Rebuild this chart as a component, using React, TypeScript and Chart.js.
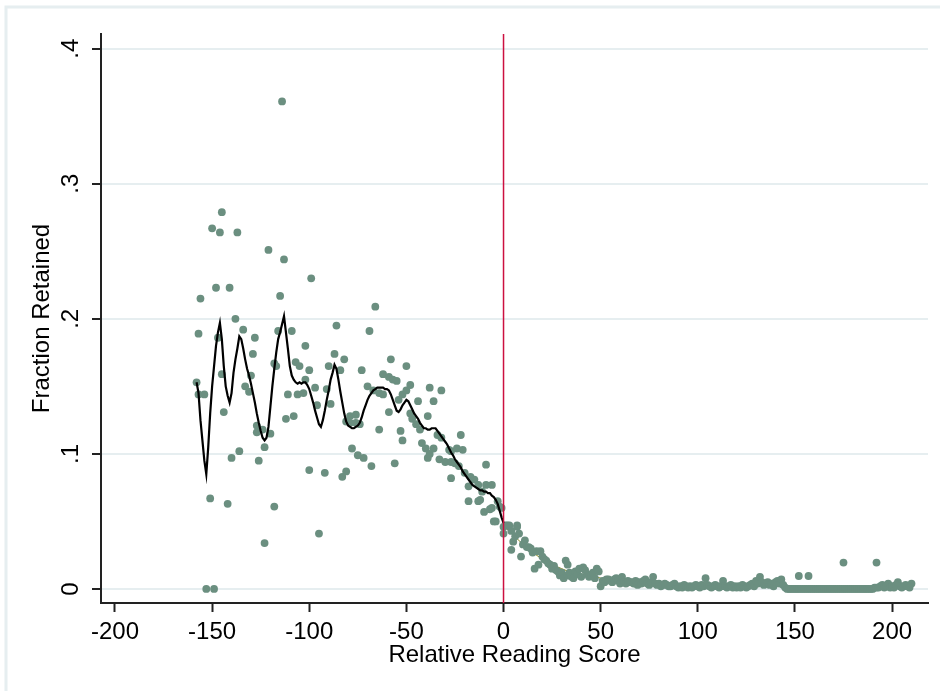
import React, { useEffect, useRef } from 'react';
import { Chart, registerables } from 'chart.js';

Chart.register(...registerables);

// ---- axis ticks ----
const xTickValues = [-200, -150, -100, -50, 0, 50, 100, 150, 200];
const yTickValues = [0, 0.1, 0.2, 0.3, 0.4];
const xTitle = 'Relative Reading Score';
const yTitle = 'Fraction Retained';
const cutoffScore = 0;

// ---- scatter: below cutoff ----
const belowScores = [
  -158, -157, -157, -156, -154, -153, -149, -151, -150, -148, -147, -146, -145, -145, -144, -142, -141, -140, -138, -137,
  -136, -134, -133, -131, -130, -129, -128, -127, -127, -126, -124, -123, -123, -121, -120, -118, -118, -117, -116, -115,
  -114, -113, -112, -111, -109, -108, -107, -106, -105, -103, -102, -102, -100, -100, -99, -97, -96, -95, -92, -91,
  -90, -89, -87, -86, -84, -83, -82, -81, -81, -79, -79, -78, -76, -76, -75, -74, -73, -72, -70, -69,
  -68, -67, -66, -64, -64, -62, -62, -59, -59, -58, -57, -56, -55, -54, -53, -52, -52, -50, -50, -48,
  -48, -47, -45, -44, -43, -42, -40, -39, -39, -38, -38, -36, -36, -34, -33, -32, -32, -30, -28, -27,
  -27, -27, -25, -24, -23, -22, -21, -20, -18, -18, -17, -15, -13, -13, -12, -11, -10, -9, -9, -7,
  -6, -6, -5, -4, -3, -2, -1,
];
const belowFractions = [
  0.153, 0.144, 0.189, 0.215, 0.144, 0, 0, 0.067, 0.267, 0.223, 0.186, 0.264, 0.279, 0.159, 0.131, 0.063, 0.223, 0.097, 0.2, 0.264,
  0.102, 0.192, 0.15, 0.146, 0.158, 0.174, 0.186, 0.121, 0.116, 0.095, 0.118, 0.105, 0.034, 0.251, 0.115, 0.167, 0.061, 0.165, 0.191, 0.217,
  0.361, 0.244, 0.126, 0.144, 0.191, 0.128, 0.168, 0.144, 0.165, 0.145, 0.155, 0.18, 0.088, 0.162, 0.23, 0.149, 0.136, 0.041, 0.086, 0.148,
  0.165, 0.137, 0.174, 0.195, 0.162, 0.083, 0.17, 0.124, 0.087, 0.128, 0.123, 0.104, 0.129, 0.123, 0.099, 0.122, 0.162, 0.097, 0.15, 0.191,
  0.091, 0.147, 0.209, 0.145, 0.118, 0.159, 0.144, 0.157, 0.131, 0.17, 0.155, 0.093, 0.154, 0.14, 0.117, 0.144, 0.11, 0.165, 0.147, 0.13,
  0.151, 0.126, 0.122, 0.139, 0.118, 0.108, 0.104, 0.128, 0.097, 0.149, 0.1, 0.104, 0.139, 0.114, 0.096, 0.112, 0.147, 0.094, 0.103, 0.094,
  0.102, 0.082, 0.093, 0.104, 0.091, 0.114, 0.103, 0.086, 0.076, 0.065, 0.083, 0.081, 0.077, 0.065, 0.066, 0.072, 0.057, 0.077, 0.092, 0.059,
  0.06, 0.077, 0.05, 0.05, 0.065, 0.061, 0.06,
];

// ---- scatter: at / above cutoff ----
const aboveScores = [
  0, 0, 1, 2, 3, 4, 4, 5, 6, 7, 7, 8, 9, 10, 11, 12, 13, 14, 15, 16,
  17, 18, 19, 20, 21, 22, 23, 24, 25, 26, 27, 28, 29, 30, 31, 32, 33, 33, 34, 35,
  36, 37, 38, 39, 40, 41, 42, 43, 44, 45, 46, 47, 48, 49, 50, 51, 52, 53, 54, 55,
  56, 57, 58, 59, 60, 61, 62, 63, 64, 65, 66, 67, 68, 69, 70, 71, 72, 73, 74, 75,
  76, 77, 78, 79, 80, 81, 82, 83, 84, 85, 86, 87, 88, 89, 90, 91, 92, 93, 94, 95,
  96, 97, 98, 99, 100, 101, 102, 103, 104, 105, 106, 107, 108, 109, 110, 111, 112, 113, 114, 115,
  116, 117, 118, 119, 120, 121, 122, 123, 124, 125, 126, 127, 128, 129, 130, 131, 132, 133, 134, 135,
  136, 137, 138, 139, 140, 141, 142, 143, 144, 145, 146, 147, 148, 149, 150, 151, 152, 152, 153, 154,
  155, 156, 157, 157, 158, 159, 160, 161, 162, 163, 164, 165, 166, 167, 168, 169, 170, 171, 172, 173,
  174, 175, 175, 176, 177, 178, 179, 180, 181, 182, 183, 184, 185, 186, 187, 188, 189, 190, 191, 192,
  192, 193, 194, 195, 196, 197, 198, 199, 200, 201, 202, 203, 204, 205, 206, 207, 208, 209, 210,
];
const aboveFractions = [
  0.046, 0.041, 0.047, 0.047, 0.047, 0.043, 0.029, 0.035, 0.039, 0.047, 0.046, 0.041, 0.024, 0.033, 0.036, 0.031, 0.031, 0.03, 0.027, 0.015,
  0.028, 0.018, 0.028, 0.024, 0.022, 0.021, 0.019, 0.018, 0.015, 0.017, 0.014, 0.013, 0.01, 0.012, 0.008, 0.021, 0.018, 0.01, 0.012, 0.009,
  0.008, 0.013, 0.011, 0.015, 0.009, 0.016, 0.014, 0.011, 0.009, 0.01, 0.012, 0.008, 0.015, 0.013, 0.002, 0.006, 0.005, 0.007, 0.007, 0.006,
  0.005, 0.007, 0.008, 0.006, 0.004, 0.009, 0.005, 0.004, 0.006, 0.005, 0.005, 0.004, 0.006, 0.003, 0.005, 0.004, 0.006, 0.007, 0.004, 0.003,
  0.005, 0.009, 0.004, 0.003, 0.004, 0.002, 0.003, 0.004, 0.003, 0.002, 0.002, 0.003, 0.004, 0.002, 0.001, 0.002, 0.001, 0.003, 0.002, 0.001,
  0.002, 0.001, 0.002, 0.003, 0.002, 0.001, 0.003, 0.002, 0.008, 0.003, 0.002, 0.001, 0.002, 0.003, 0.002, 0.001, 0.002, 0.006, 0.002, 0.001,
  0.002, 0.003, 0.001, 0.002, 0.001, 0.002, 0.001, 0.003, 0.002, 0.001, 0.002, 0.003, 0.004, 0.002, 0.006, 0.004, 0.009, 0.005, 0.003, 0.004,
  0.005, 0.003, 0.004, 0.002, 0.005, 0.006, 0.004, 0.007, 0.003, 0.001, 0, 0, 0, 0, 0, 0, 0, 0.0096, 0, 0,
  0, 0, 0, 0.0096, 0, 0, 0, 0, 0, 0, 0, 0, 0, 0, 0, 0, 0, 0, 0, 0,
  0, 0, 0.0195, 0, 0, 0, 0, 0, 0, 0, 0, 0, 0, 0, 0, 0, 0, 0, 0.001, 0.001,
  0.0195, 0.001, 0.002, 0.003, 0.001, 0.002, 0.004, 0.001, 0.002, 0.001, 0.003, 0.005, 0.002, 0.001, 0.002, 0.003, 0.002, 0.001, 0.004,
];

// ---- local mean line below cutoff ----
const belowLineScores = [
  -158, -157, -156, -155, -154, -153, -152, -151, -150, -149, -148, -147, -146, -145, -144, -143, -142, -141, -140, -139,
  -138, -137, -136, -135, -134, -133, -132, -131, -130, -129, -128, -127, -126, -125, -124, -123, -122, -121, -120, -119,
  -118, -117, -116, -115, -114, -113, -112, -111, -110, -109, -108, -107, -106, -105, -104, -103, -102, -101, -100, -99,
  -98, -97, -96, -95, -94, -93, -92, -91, -90, -89, -88, -87, -86, -85, -84, -83, -82, -81, -80, -79,
  -78, -77, -76, -75, -74, -73, -72, -71, -70, -69, -68, -67, -66, -65, -64, -63, -62, -61, -60, -59,
  -58, -57, -56, -55, -54, -53, -52, -51, -50, -49, -48, -47, -46, -45, -44, -43, -42, -41, -40, -39,
  -38, -37, -36, -35, -34, -33, -32, -31, -30, -29, -28, -27, -26, -25, -24, -23, -22, -21, -20, -19,
  -18, -17, -16, -15, -14, -13, -12, -11, -10, -9, -8, -7, -6, -5, -4, -3, -2, -1, 0,
];
const belowLineFractions = [
  0.153, 0.145, 0.125, 0.11, 0.095, 0.085, 0.105, 0.13, 0.15, 0.165, 0.18, 0.19, 0.197, 0.185, 0.165, 0.15, 0.143, 0.138, 0.145, 0.16,
  0.17, 0.178, 0.187, 0.185, 0.178, 0.17, 0.163, 0.158, 0.152, 0.145, 0.138, 0.13, 0.123, 0.117, 0.112, 0.11, 0.112, 0.12, 0.135, 0.15,
  0.163, 0.175, 0.185, 0.19, 0.196, 0.202, 0.19, 0.178, 0.165, 0.158, 0.155, 0.153, 0.152, 0.153, 0.152, 0.153, 0.153, 0.151, 0.148, 0.143,
  0.138, 0.132, 0.127, 0.122, 0.12, 0.125, 0.132, 0.14, 0.147, 0.155, 0.16, 0.166, 0.163, 0.155, 0.146, 0.138, 0.13, 0.124, 0.121, 0.12,
  0.119, 0.119, 0.12, 0.121, 0.123, 0.127, 0.132, 0.136, 0.14, 0.143, 0.145, 0.147, 0.148, 0.149, 0.149, 0.149, 0.149, 0.148, 0.148, 0.147,
  0.144, 0.14, 0.136, 0.132, 0.131, 0.133, 0.136, 0.138, 0.14, 0.139, 0.136, 0.133, 0.13, 0.128, 0.126, 0.123, 0.121, 0.119, 0.119, 0.118,
  0.118, 0.119, 0.119, 0.119, 0.117, 0.115, 0.113, 0.111, 0.109, 0.107, 0.104, 0.101, 0.099, 0.096, 0.094, 0.092, 0.09, 0.087, 0.085, 0.083,
  0.081, 0.079, 0.077, 0.076, 0.075, 0.074, 0.073, 0.073, 0.072, 0.072, 0.071, 0.071, 0.069, 0.068, 0.066, 0.063, 0.058, 0.053, 0.049,
];

// ---- local mean line above cutoff ----
const aboveLineScores = [0, 5, 10, 15, 20, 25, 30, 35, 40, 45, 50, 55, 60, 70, 80, 90, 100, 120, 140, 160, 180, 190, 200, 210];
const aboveLineFractions = [0.047, 0.04, 0.033, 0.027, 0.022, 0.018, 0.015, 0.012, 0.011, 0.01, 0.008, 0.006, 0.005, 0.005, 0.004, 0.003, 0.002, 0.002, 0.003, 0.001, 0.001, 0.002, 0.003, 0.004];

const X_MIN = -207.2;
const X_MAX = 218.5;
const Y_MIN = -0.0104;
const Y_MAX = 0.4109;

const FONT = "'Liberation Sans', Arial, sans-serif";

const pts = (xs: number[], ys: number[]) => xs.map((x, i) => ({ x, y: ys[i] }));

const framePlugin = {
  id: 'frame',
  beforeDraw(chart: any) {
    const { ctx, width, height } = chart;
    ctx.save();
    ctx.fillStyle = '#ffffff';
    ctx.fillRect(0, 0, width, height);
    ctx.strokeStyle = '#e6eef0';
    ctx.lineWidth = 3;
    ctx.beginPath();
    ctx.moveTo(6, height + 5);
    ctx.lineTo(6, 7);
    ctx.lineTo(width + 5, 7);
    ctx.stroke();
    ctx.restore();
  },
};

export default function App() {
  const ref = useRef<HTMLCanvasElement>(null);
  useEffect(() => {
    const canvas = ref.current;
    if (!canvas) return;
    const chart = new Chart(canvas, {
      type: 'scatter',
      data: {
        datasets: [
          {
            label: 'cutoff',
            data: [{ x: cutoffScore, y: Y_MIN }, { x: cutoffScore, y: Y_MAX }],
            showLine: true,
            borderColor: '#cc1040',
            borderWidth: 1.5,
            pointRadius: 0,
            order: 0,
          },
          {
            label: 'mean below',
            data: pts(belowLineScores, belowLineFractions),
            showLine: true,
            borderColor: '#000000',
            borderWidth: 2.2,
            pointRadius: 0,
            tension: 0,
            order: 1,
          },
          {
            label: 'retained',
            data: [...pts(belowScores, belowFractions), ...pts(aboveScores, aboveFractions)],
            backgroundColor: '#6b8f80',
            borderWidth: 0,
            pointRadius: 3.9,
            pointHoverRadius: 3.9,
            order: 2,
          },
          {
            label: 'mean above',
            data: pts(aboveLineScores, aboveLineFractions),
            showLine: true,
            borderColor: '#8c8a1c',
            borderWidth: 1,
            pointRadius: 0,
            tension: 0,
            order: 3,
          },
        ],
      },
      options: {
        responsive: false,
        animation: false,
        devicePixelRatio: 1,
        layout: { padding: { top: 34, right: 12, left: 0, bottom: 0 } },
        plugins: { legend: { display: false }, tooltip: { enabled: false } },
        scales: {
          x: {
            type: 'linear',
            position: 'bottom',
            min: X_MIN,
            max: X_MAX,
            afterBuildTicks: (s: any) => {
              s.ticks = xTickValues.map((v) => ({ value: v }));
            },
            afterFit: (s: any) => {
              s.height = 88;
            },
            ticks: {
              autoSkip: false,
              minRotation: 0,
              maxRotation: 0,
              padding: 5.6,
              color: '#000',
              font: { family: FONT, size: 24 },
              callback: (v: any) => String(v),
            },
            grid: { drawOnChartArea: false, drawTicks: true, tickLength: 9, tickColor: '#222', tickWidth: 2 },
            border: { display: true, color: '#222', width: 2 },
            title: {
              display: true,
              text: xTitle,
              color: '#000',
              font: { family: FONT, size: 24 },
              padding: { top: 0, bottom: 21 },
            },
          },
          y: {
            type: 'linear',
            min: Y_MIN,
            max: Y_MAX,
            afterBuildTicks: (s: any) => {
              s.ticks = yTickValues.map((v) => ({ value: v }));
            },
            afterFit: (s: any) => {
              s.width = 101;
            },
            ticks: {
              autoSkip: false,
              minRotation: 90,
              maxRotation: 90,
              crossAlign: 'center',
              padding: 11,
              color: '#000',
              font: { family: FONT, size: 24 },
              callback: (v: any) => (v === 0 ? '0' : Number(v).toFixed(1).replace(/^0/, '')),
            },
            grid: { color: '#e6eef0', lineWidth: 2, drawTicks: true, tickLength: 9, tickColor: '#222', tickWidth: 2 },
            border: { display: true, color: '#222', width: 2 },
            title: {
              display: true,
              text: yTitle,
              color: '#000',
              font: { family: FONT, size: 24 },
              padding: { top: 27.6, bottom: 0 },
            },
          },
        },
      },
      plugins: [framePlugin],
    } as any);
    return () => chart.destroy();
  }, []);
  return (
    <div style={{ position: 'absolute', left: 0, top: 0, width: 940, height: 691, background: '#fff' }}>
      <canvas ref={ref} width={940} height={691} style={{ display: 'block', width: 940, height: 691 }} />
    </div>
  );
}
